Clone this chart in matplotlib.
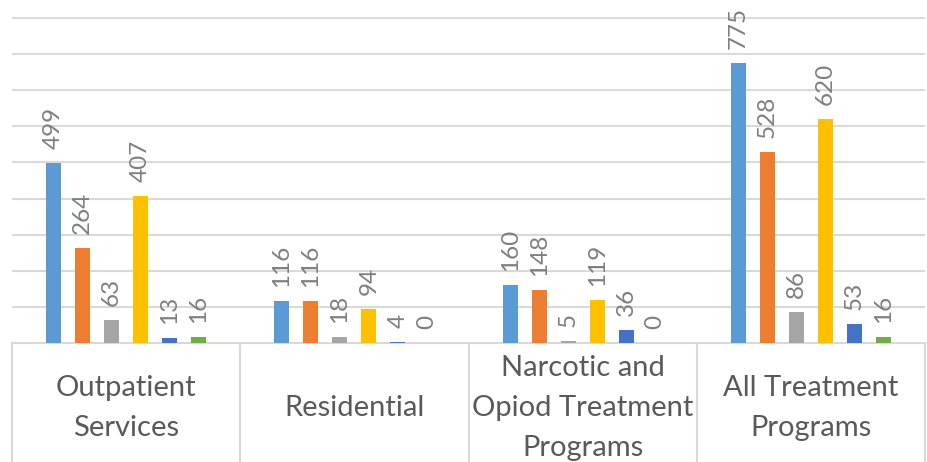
import numpy as np
import matplotlib
matplotlib.use("Agg")
import matplotlib.pyplot as plt
from matplotlib.transforms import blended_transform_factory, offset_copy

categories = ["Outpatient\nServices", "Residential",
              "Narcotic and\nOpiod Treatment\nPrograms", "All Treatment\nPrograms"]
series_a = [499, 116, 160, 775]
series_b = [264, 116, 148, 528]
series_c = [63, 18, 5, 86]
series_d = [407, 94, 119, 620]
series_e = [13, 4, 36, 53]
series_f = [16, 0, 0, 16]

all_series = [series_a, series_b, series_c, series_d, series_e, series_f]
colors = ["#5B9BD5", "#ED7D31", "#A5A5A5", "#FFC000", "#4472C4", "#70AD47"]

plt.rcParams['font.family'] = ['Lato', 'DejaVu Sans']

fig = plt.figure(figsize=(9.27, 4.62), dpi=100)
ax = fig.add_axes([12 / 927, 119 / 462, 913 / 927, 343 / 462])

x = np.arange(len(categories))
step = 0.127
width = 0.066
for i, (vals, col) in enumerate(zip(all_series, colors)):
    pos = x + (i - 2.5) * step
    ax.bar(pos, vals, width=width, color=col, zorder=3)
    for px, v in zip(pos, vals):
        ax.annotate(str(v), (px, v), xytext=(0, 10), textcoords="offset points",
                    rotation=90, ha="center", va="bottom", fontsize=17.5,
                    color="#7F7F7F")

ax.set_xlim(-0.5, 3.5)
ax.set_ylim(0, 950)
ax.set_yticks(np.arange(100, 901, 100))
ax.yaxis.grid(True, color="#D9D9D9", linewidth=1.5, zorder=0)
ax.tick_params(axis="y", left=False, labelleft=False)

for s in ["top", "right", "left"]:
    ax.spines[s].set_visible(False)
ax.spines["bottom"].set_color("#D9D9D9")
ax.spines["bottom"].set_linewidth(1.5)

ax.set_xticks([])
ax.set_xticks(np.arange(-0.5, 4.0, 1.0), minor=True)
ax.tick_params(axis="x", which="minor", length=90, width=1.5, color="#D9D9D9",
               labelbottom=False)

trans = offset_copy(blended_transform_factory(ax.transData, ax.transAxes),
                    fig=fig, y=-65, units="dots")
for xi, lab in zip(x, categories):
    ax.text(xi, 0, lab, transform=trans, ha="center", va="center",
            fontsize=21, color="#595959", linespacing=1.65)

fig.savefig("out.png", dpi=100)
